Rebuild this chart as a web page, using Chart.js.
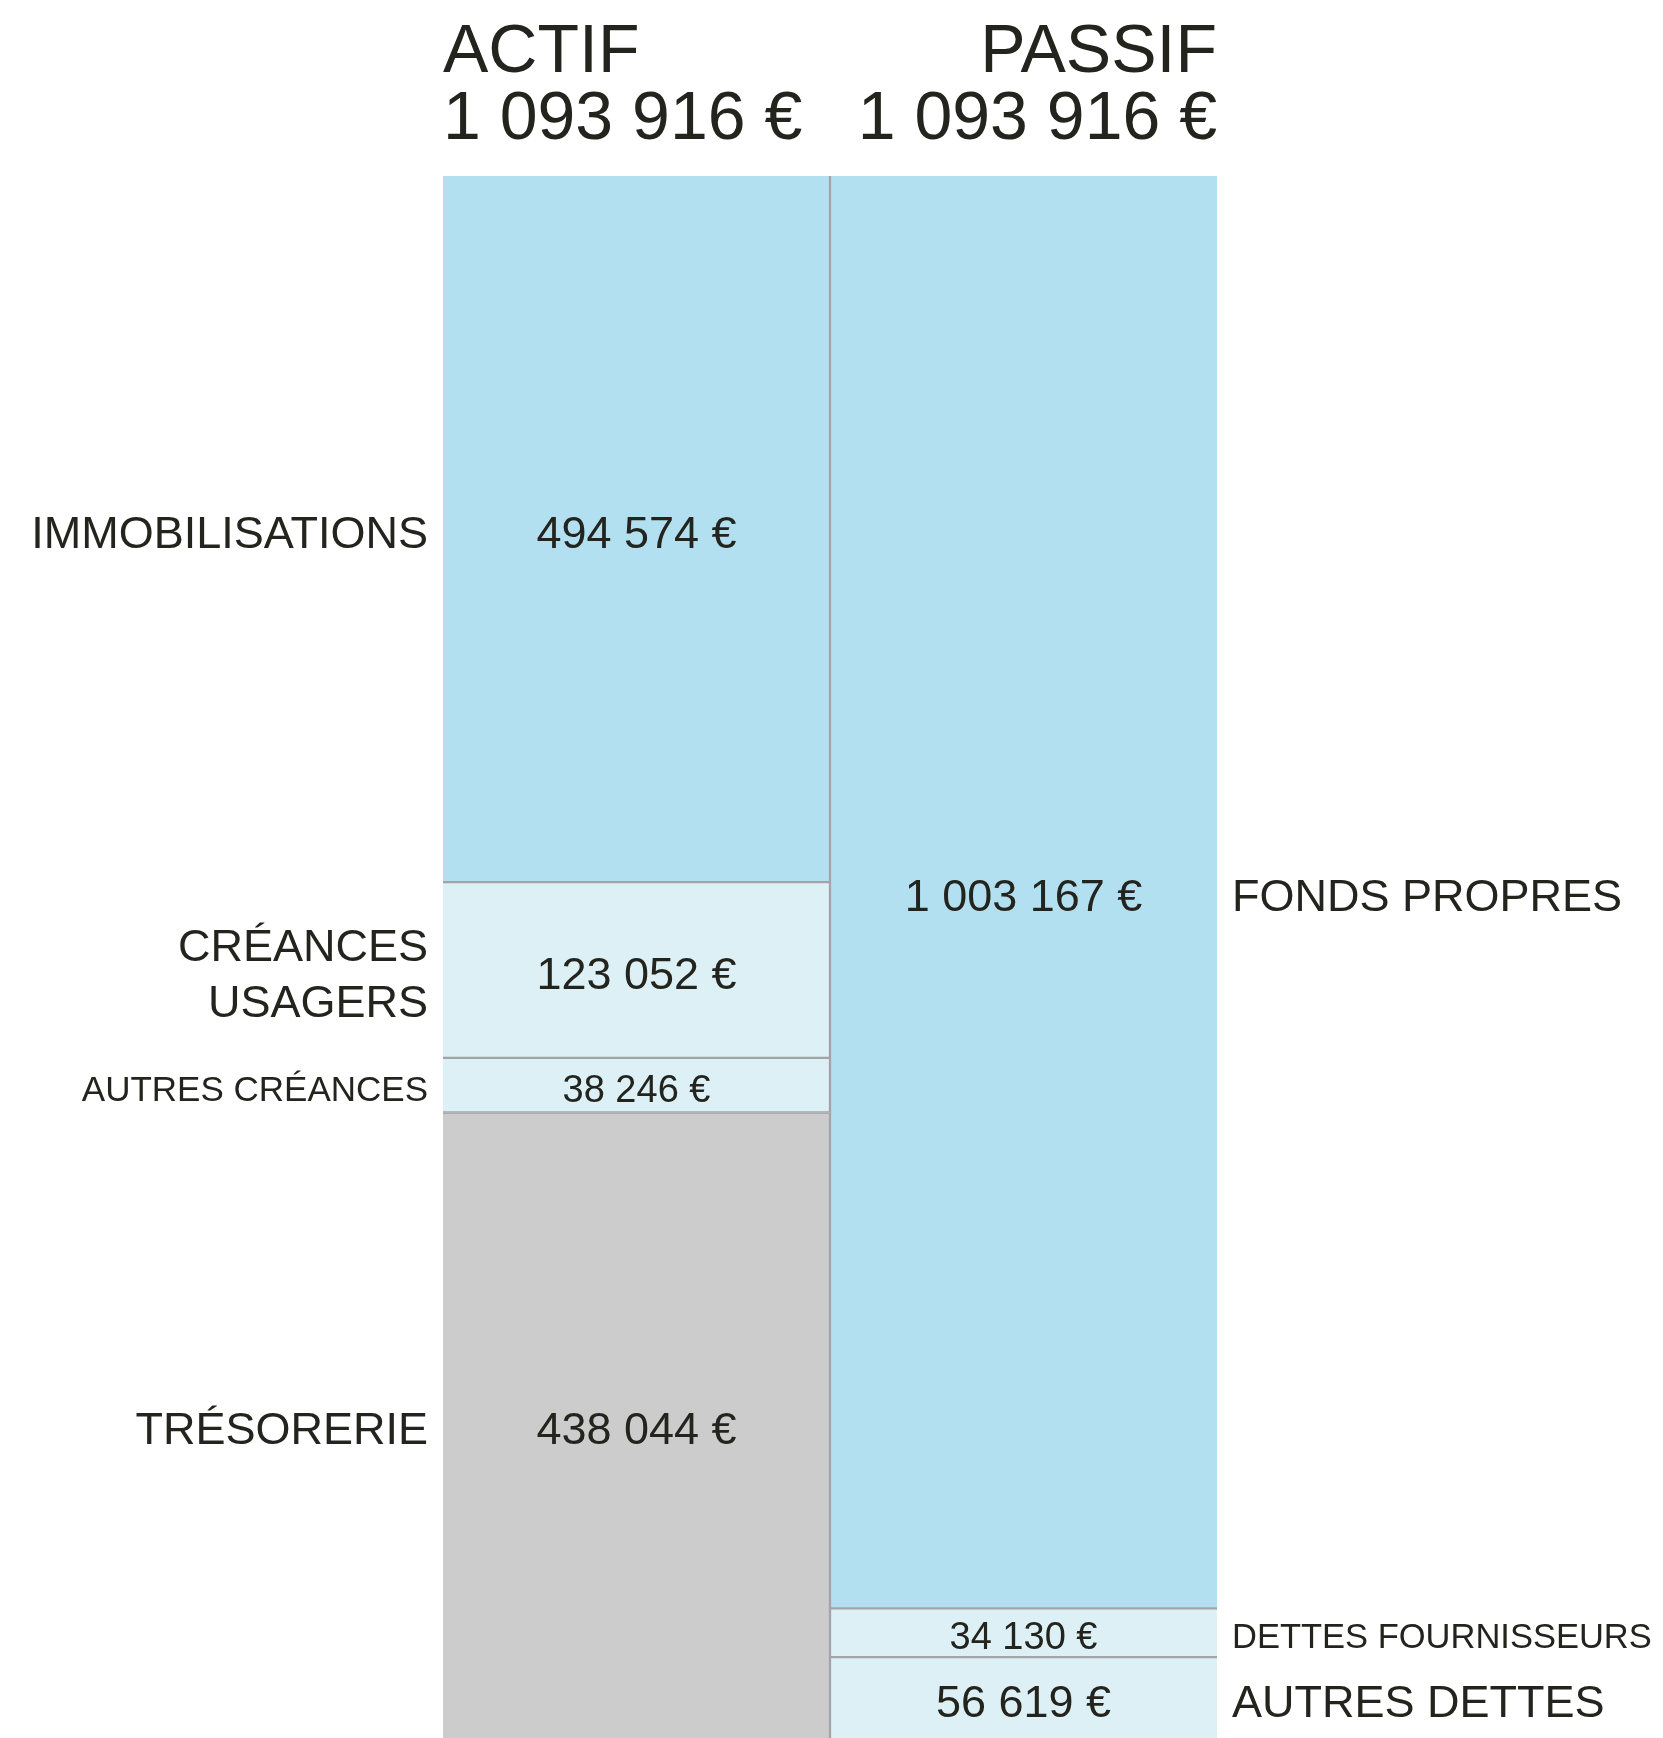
<!DOCTYPE html>
<html lang="fr">
<head>
<meta charset="utf-8">
<title>Bilan actif / passif</title>
<script src="https://cdn.jsdelivr.net/npm/chart.js@4/dist/chart.umd.min.js"></script>
<style>
  html, body { margin: 0; padding: 0; background: #ffffff; }
  #wrap { width: 1663px; height: 1738px; }
</style>
</head>
<body>
<div id="wrap"><canvas id="chart" width="1663" height="1738"></canvas></div>
<script>
// Données du bilan
const columns = ['ACTIF', 'PASSIF'];
const actifLabels = ['IMMOBILISATIONS', 'CRÉANCES\nUSAGERS', 'AUTRES CRÉANCES', 'TRÉSORERIE'];
const actifValues = [494574, 123052, 38246, 438044];
const passifLabels = ['FONDS PROPRES', 'DETTES FOURNISSEURS', 'AUTRES DETTES'];
const passifValues = [1003167, 34130, 56619];

// Styles
const actifColors = ['#b3e0f0', '#dcf0f6', '#dcf0f6', '#cccccc'];
const passifColors = ['#b3e0f0', '#dcf0f6', '#dcf0f6'];
const actifValueSizes = [45, 45, 38, 45];
const actifLabelSizes = [45, 45, 35, 45];
const passifValueSizes = [45, 38, 45];
const passifLabelSizes = [45, 34.5, 45];
const TEXT = '#24241e';
const LINE = '#a4a4a8';
const FONT = '"Liberation Sans", Arial, sans-serif';

function euro(v) {
    return String(v).replace(/\B(?=(\d{3})+(?!\d))/g, ' ') + ' €';
}

const sum = arr => arr.reduce((a, b) => a + b, 0);
const totals = [sum(actifValues), sum(passifValues)];

/**
 * Construit un dataset par segment (empilé).
 */
function makeDatasets(labels, values, colors, col, valueSizes, labelSizes) {
    const last = values.length - 1;
    return values.map((v, i) => ({
        label: labels[i],
        data: col === 0 ? [v, null] : [null, v],
        backgroundColor: colors[i],
        borderColor: LINE,
        borderWidth: {
            top: i > 0 ? 1.5 : 0,
            bottom: i < last ? 1.5 : 0,
            left: col === 1 ? 1.5 : 0,
            right: col === 0 ? 1.5 : 0
        },
        borderSkipped: false,
        stack: 'bilan',
        barPercentage: 1,
        categoryPercentage: 1,
        side: col,
        valueSize: valueSizes[i],
        labelSize: labelSizes[i]
    }));
}

const datasets = [
    ...makeDatasets(actifLabels, actifValues, actifColors, 0, actifValueSizes, actifLabelSizes),
    ...makeDatasets(passifLabels, passifValues, passifColors, 1, passifValueSizes, passifLabelSizes)
];

// Textes : valeurs, libellés, en-têtes
const labelPlugin = {
    id: 'bilanLabels',
    afterDatasetsDraw(chart) {
        const ctx = chart.ctx;
        ctx.save();
        ctx.fillStyle = TEXT;
        ctx.textBaseline = 'alphabetic';

        chart.data.datasets.forEach((ds, di) => {
            const bar = chart.getDatasetMeta(di).data[ds.side];
            if (!bar) return;
            const cy = (bar.y + bar.base) / 2 + 3;
            const left = bar.x - bar.width / 2;
            const right = bar.x + bar.width / 2;

            // valeur au centre du segment
            ctx.font = ds.valueSize + 'px ' + FONT;
            ctx.textAlign = 'center';
            ctx.fillText(euro(ds.data[ds.side]), bar.x, cy + ds.valueSize * 0.358);

            // libellé à côté
            const lines = ds.label.split('\n');
            const lh = ds.labelSize * 1.24;
            ctx.font = ds.labelSize + 'px ' + FONT;
            ctx.textAlign = ds.side === 0 ? 'right' : 'left';
            const lx = ds.side === 0 ? left - 15 : right + 15;
            lines.forEach((ln, k) => {
                const ly = cy + (k - (lines.length - 1) / 2) * lh + ds.labelSize * 0.358;
                ctx.fillText(ln, lx, ly);
            });
        });

        // en-têtes de colonnes
        const a = chart.getDatasetMeta(0).data[0];
        const p = chart.getDatasetMeta(actifValues.length).data[1];
        const aLeft = a.x - a.width / 2;
        const pRight = p.x + p.width / 2;
        ctx.font = '68px ' + FONT;
        ctx.textAlign = 'left';
        ctx.fillText(columns[0], aLeft, 72);
        ctx.textAlign = 'right';
        ctx.fillText(columns[1], pRight, 72);
        ctx.font = '68px ' + FONT;
        ctx.textAlign = 'left';
        ctx.fillText(euro(totals[0]), aLeft, 139);
        ctx.textAlign = 'right';
        ctx.fillText(euro(totals[1]), pRight, 139);
        ctx.restore();
    }
};

new Chart(document.getElementById('chart'), {
    type: 'bar',
    data: { labels: columns, datasets: datasets },
    options: {
        responsive: false,
        animation: false,
        layout: { padding: { left: 443, right: 446, top: 176, bottom: 0 } },
        scales: {
            x: { stacked: true, display: false },
            y: { stacked: true, display: false, reverse: true, min: 0, max: Math.max(...totals) }
        },
        plugins: {
            legend: { display: false },
            tooltip: { enabled: false }
        }
    },
    plugins: [labelPlugin]
});
</script>
</body>
</html>
